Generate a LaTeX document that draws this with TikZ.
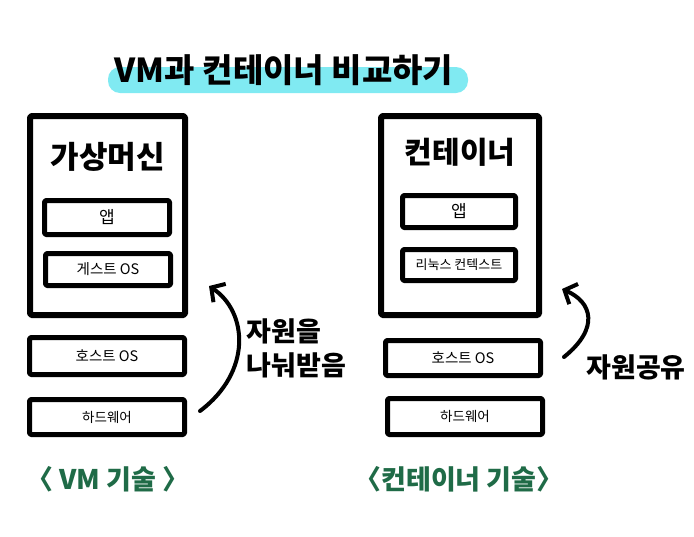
\documentclass[tikz,border=0pt]{standalone}
\usepackage{fontspec}
\setmainfont{Noto Sans CJK KR}
\usetikzlibrary{arrows.meta}
\definecolor{hl}{HTML}{80EAF2}
\definecolor{grn}{HTML}{1F6B47}
\tikzset{
  outerbox/.style={draw, line width=6pt, line join=round, inner sep=0pt, outer sep=0pt, rounded corners=1.5pt},
  innerbox/.style={draw, line width=5pt, line join=round, inner sep=0pt, outer sep=0pt, rounded corners=1.5pt},
  smalltxt/.style={font=\fontsize{14.5}{16}\selectfont},
  bigtxt/.style={font=\bfseries\fontsize{31}{34}\selectfont},
  handarrow/.style={line width=4pt, line cap=round, -{Straight Barb[length=10pt, width=22pt, line width=4pt]}},
  bottomlbl/.style={text=grn, font=\bfseries\fontsize{27}{30}\selectfont},
}
\begin{document}
\begin{tikzpicture}[x=1pt, y=-1pt]
\useasboundingbox (0,0) rectangle (694,536);
% title
\fill[hl, rounded corners=12pt] (108,67) rectangle (468,93);
\node[font=\bfseries\fontsize{33}{36}\selectfont] (title) at (284,70) {VM과 컨테이너 비교하기};
% VM side
\node[outerbox, minimum width=155pt, minimum height=199pt] (vm) at (107.5,215.5) {};
\node[bigtxt] (vmt) at (108,157) {가상머신};
\node[innerbox, minimum width=125pt, minimum height=34pt, font=\fontsize{17}{19}\selectfont] (vmapp) at (107,217.5) {앱};
\node[innerbox, minimum width=125pt, minimum height=32pt, smalltxt] (vmguest) at (108,269.5) {게스트 OS};
\node[innerbox, minimum width=155pt, minimum height=37pt, smalltxt] (vmhost) at (107,356) {호스트 OS};
\node[innerbox, minimum width=155pt, minimum height=35pt, font=\fontsize{13.5}{15}\selectfont] (vmhw) at (107,417) {하드웨어};
% container side
\node[outerbox, minimum width=158pt, minimum height=199pt] (ct) at (460,215.5) {};
\node[bigtxt, font=\bfseries\fontsize{30}{33}\selectfont] (ctt) at (460,152) {컨테이너};
\node[innerbox, minimum width=113pt, minimum height=32pt, font=\fontsize{17}{19}\selectfont] (ctapp) at (459,211.5) {앱};
\node[innerbox, minimum width=113pt, minimum height=31pt, font=\fontsize{13}{15}\selectfont] (ctlin) at (459,265) {리눅스 컨텍스트};
\node[innerbox, minimum width=155pt, minimum height=35pt, smalltxt] (cthost) at (463,358) {호스트 OS};
\node[innerbox, minimum width=155pt, minimum height=36pt, font=\fontsize{13.5}{15}\selectfont] (cthw) at (465,416.5) {하드웨어};
% arrows
\coordinate (la1) at (200,411);
\coordinate (la2) at (209,286);
\draw[handarrow] (la1) .. controls (252,372) and (248,312) .. (la2);
\coordinate (ra1) at (564,357);
\coordinate (ra2) at (562,289);
\draw[handarrow] (ra1) .. controls (600,328) and (592,302) .. (ra2);
% arrow labels
\node[bigtxt, font=\bfseries\fontsize{27}{34}\selectfont, align=left, anchor=west] (share1) at (243,348) {자원을\\나눠받음};
\node[bigtxt, font=\bfseries\fontsize{27}{30}\selectfont] (share2) at (636,367) {자원공유};
% bottom labels
\node[bottomlbl] (vmlbl) at (108,479) {〈 VM 기술 〉};
\node[bottomlbl] (ctlbl) at (459,479) {〈컨테이너 기술〉};
\end{tikzpicture}
\end{document}
